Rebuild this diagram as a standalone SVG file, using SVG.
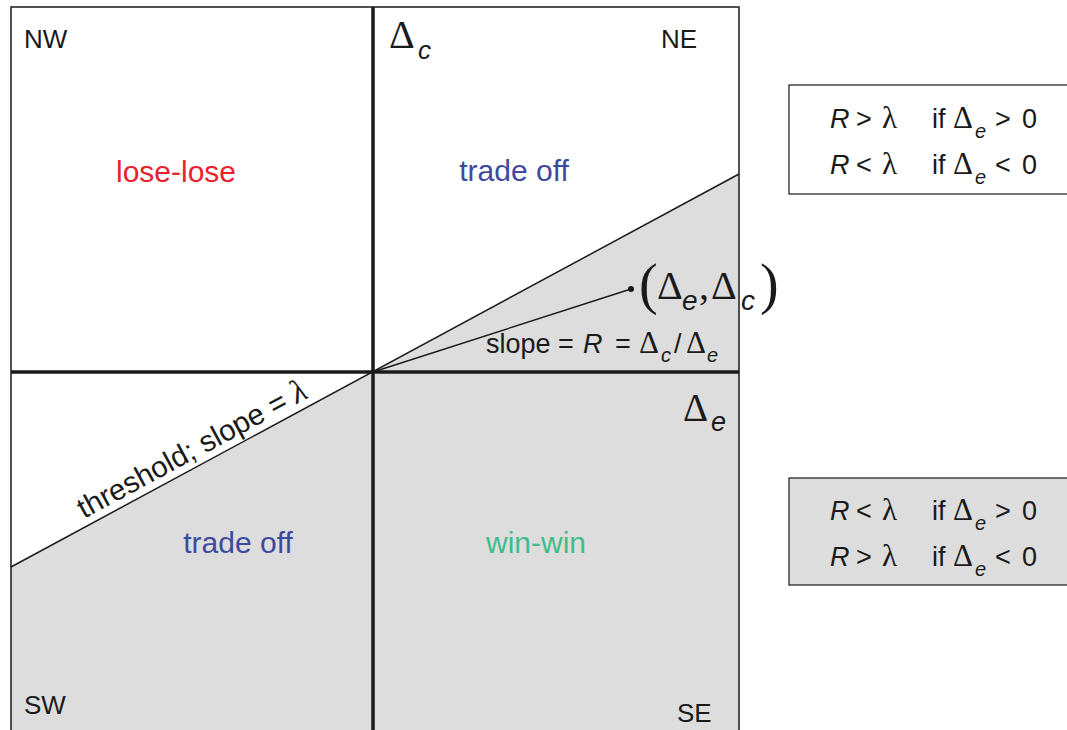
<svg xmlns="http://www.w3.org/2000/svg" width="1067" height="730" viewBox="0 0 1067 730">
<style>
.s{font-family:"Liberation Sans",Arial,sans-serif;fill:#1a1a1a}
.i{font-family:"Liberation Sans",Arial,sans-serif;font-style:italic;fill:#1a1a1a}
.d{font-family:"Liberation Serif","Times New Roman",serif;fill:#1a1a1a}
.c{font-size:26px}
.r{font-size:30px}
.b{font-size:27px}
.sb{font-size:20px}
.bd{font-size:31px}
</style>
<rect width="1067" height="730" fill="#fff"/>
<g id="regions">
<polygon points="11,567 739,174 739,730 11,730" fill="#dddddd"/>
</g>
<g id="frame">
<rect x="11" y="7" width="728" height="730" fill="none" stroke="#1a1a1a" stroke-width="1.5"/>
</g>
<g id="connectors" stroke="#1a1a1a" fill="none">
<line x1="373" y1="7" x2="373" y2="730" stroke-width="3.5"/>
<line x1="11" y1="372" x2="739" y2="372" stroke-width="3.5"/>
<line x1="11" y1="567" x2="739" y2="174" stroke-width="1.5"/>
<line x1="373" y1="372" x2="631" y2="289" stroke-width="1.5"/>
<circle cx="631" cy="289" r="3" fill="#1a1a1a" stroke="none"/>
</g>
<g id="quadrants">
<text class="s c" x="24" y="48">NW</text>
<text class="s c" x="661" y="48">NE</text>
<text class="s c" x="24" y="714">SW</text>
<text class="s c" x="677" y="722">SE</text>
<text class="s r" x="176" y="182" text-anchor="middle" style="fill:#e8232d">lose-lose</text>
<text class="s r" x="514" y="181" text-anchor="middle" style="fill:#3e4a9e">trade off</text>
<text class="s r" x="238" y="553" text-anchor="middle" style="fill:#3e4a9e">trade off</text>
<text class="s r" x="536" y="553" text-anchor="middle" style="fill:#3dbd8b">win-win</text>
</g>
<g id="axis-labels">
<text class="d" font-size="40" x="389" y="48">Δ</text>
<text class="i" font-size="26" x="418" y="59">c</text>
<text class="d" font-size="39" x="683" y="421">Δ</text>
<text class="i" font-size="27" x="711" y="431">e</text>
</g>
<g id="point-label">
<text class="d" font-size="56" x="639" y="303">(</text>
<text class="d" font-size="40" x="657" y="299">Δ</text>
<text class="i" font-size="28" x="682" y="310">e</text>
<text class="d" font-size="40" x="699" y="299">,</text>
<text class="d" font-size="40" x="711" y="299">Δ</text>
<text class="i" font-size="28" x="741" y="310">c</text>
<text class="d" font-size="56" x="760" y="303">)</text>
</g>
<g id="slope-label">
<text class="s b" x="486" y="353">slope</text>
<text class="s b" x="558" y="353">=</text>
<text class="i b" x="583" y="353">R</text>
<text class="s b" x="615" y="353">=</text>
<text class="d" font-size="31" x="639" y="353">Δ</text>
<text class="i sb" x="661" y="362">c</text>
<text class="s b" x="674" y="353">/</text>
<text class="d" font-size="31" x="686" y="353">Δ</text>
<text class="i sb" x="707" y="362">e</text>
</g>
<g id="threshold-label">
<text transform="translate(84,519) rotate(-28.4)"><tspan class="s" font-size="29.5">threshold; slope = </tspan><tspan class="d" font-size="33" font-style="italic">λ</tspan></text>
</g>
<g id="box-top">
<rect x="789" y="85" width="280" height="109" fill="#fff" stroke="#1a1a1a" stroke-width="1.2"/>
<g>
<text class="i b" x="830" y="128">R</text>
<text class="s b" x="856" y="128">&gt;</text>
<text class="d bd" x="882" y="128">λ</text>
<text class="s b" x="932" y="128">if</text>
<text class="d bd" x="953" y="128">Δ</text>
<text class="i sb" x="975" y="138">e</text>
<text class="s b" x="995" y="128">&gt;</text>
<text class="s b" x="1022" y="128">0</text>
</g>
<g>
<text class="i b" x="830" y="174">R</text>
<text class="s b" x="856" y="174">&lt;</text>
<text class="d bd" x="882" y="174">λ</text>
<text class="s b" x="932" y="174">if</text>
<text class="d bd" x="953" y="174">Δ</text>
<text class="i sb" x="975" y="184">e</text>
<text class="s b" x="995" y="174">&lt;</text>
<text class="s b" x="1022" y="174">0</text>
</g>
</g>
<g id="box-bottom">
<rect x="789" y="478" width="280" height="107" fill="#dddddd" stroke="#1a1a1a" stroke-width="1.2"/>
<g>
<text class="i b" x="830" y="520">R</text>
<text class="s b" x="856" y="520">&lt;</text>
<text class="d bd" x="882" y="520">λ</text>
<text class="s b" x="932" y="520">if</text>
<text class="d bd" x="953" y="520">Δ</text>
<text class="i sb" x="975" y="530">e</text>
<text class="s b" x="995" y="520">&gt;</text>
<text class="s b" x="1022" y="520">0</text>
</g>
<g>
<text class="i b" x="830" y="566">R</text>
<text class="s b" x="856" y="566">&gt;</text>
<text class="d bd" x="882" y="566">λ</text>
<text class="s b" x="932" y="566">if</text>
<text class="d bd" x="953" y="566">Δ</text>
<text class="i sb" x="975" y="576">e</text>
<text class="s b" x="995" y="566">&lt;</text>
<text class="s b" x="1022" y="566">0</text>
</g>
</g>
</svg>
